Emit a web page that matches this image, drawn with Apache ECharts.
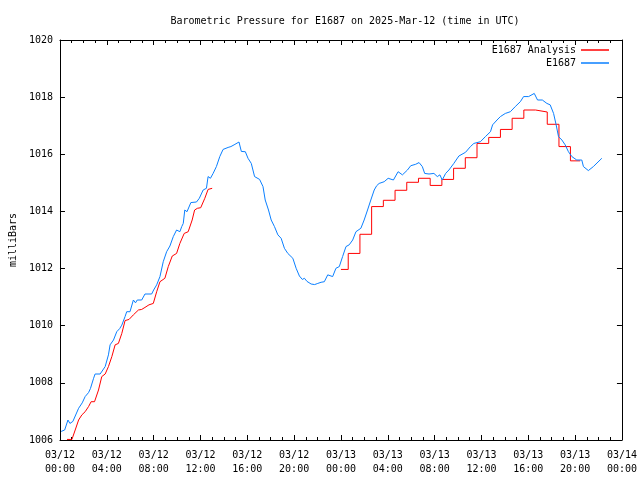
<!DOCTYPE html>
<html>
<head>
<meta charset="utf-8">
<script src="https://cdn.jsdelivr.net/npm/echarts@6/dist/echarts.min.js"></script>
<style>html,body{margin:0;padding:0;background:#fff}#c{width:640px;height:480px}</style>
</head>
<body>
<div id="c"></div>
<script>
// Hours since 2025-03-12 00:00 UTC
var xTickLabels = ['03/12\n00:00','03/12\n04:00','03/12\n08:00','03/12\n12:00','03/12\n16:00','03/12\n20:00','03/13\n00:00','03/13\n04:00','03/13\n08:00','03/13\n12:00','03/13\n16:00','03/13\n20:00','03/14\n00:00'];
var yTickLabels = ['1006','1008','1010','1012','1014','1016','1018','1020'];

var stationHours = [0.1,0.4,0.68,0.85,1.1,1.59,1.9,2.15,2.44,2.6,2.87,3.0,3.43,3.86,4.14,4.28,4.57,4.85,5.1,5.28,5.56,5.7,5.85,5.98,6.27,6.45,6.6,6.7,6.98,7.26,7.83,8.0,8.26,8.54,8.82,9.11,9.39,9.68,9.96,10.24,10.4,10.53,10.66,10.85,11.0,11.18,11.66,11.9,12.23,12.51,12.6,12.65,12.85,13.08,13.36,13.65,13.93,14.36,14.6,14.87,15.0,15.29,15.49,15.83,16.06,16.34,16.62,17.05,17.34,17.53,17.81,18.04,18.32,18.61,18.89,19.17,19.46,19.89,20.17,20.45,20.7,20.88,21.1,21.45,21.6,21.75,22.02,22.3,22.58,22.87,23.0,23.29,23.57,23.86,24.14,24.43,24.7,25.0,25.28,25.7,25.98,26.27,26.55,26.84,27.05,27.26,27.69,28.03,28.48,28.88,29.25,29.68,29.96,30.38,30.67,30.95,31.15,31.52,31.94,32.23,32.45,32.65,32.94,33.22,33.64,34.07,34.64,35.06,35.35,35.91,36.34,36.77,36.95,37.33,37.62,38.04,38.47,38.89,39.32,39.6,40.03,40.2,40.51,40.79,41.2,41.59,41.87,42.16,42.38,42.58,42.87,43.15,43.43,43.72,44.14,44.57,44.71,45.13,45.56,46.13,46.28];
var stationPressure = [1006.3,1006.35,1006.7,1006.58,1006.65,1007.11,1007.3,1007.52,1007.66,1007.8,1008.16,1008.31,1008.31,1008.57,1008.98,1009.33,1009.5,1009.79,1009.9,1010.02,1010.32,1010.49,1010.42,1010.49,1010.9,1010.8,1010.9,1010.84,1010.9,1011.11,1011.11,1011.25,1011.43,1011.72,1012.24,1012.59,1012.79,1013.12,1013.35,1013.29,1013.47,1013.58,1014.05,1013.99,1014.0,1014.31,1014.33,1014.46,1014.75,1014.81,1014.81,1015.22,1015.16,1015.33,1015.57,1015.92,1016.17,1016.24,1016.27,1016.33,1016.27,1016.43,1016.1,1016.09,1015.86,1015.68,1015.22,1015.12,1014.87,1014.4,1014.05,1013.7,1013.47,1013.18,1013.06,1012.71,1012.53,1012.36,1012.01,1011.74,1011.62,1011.66,1011.55,1011.46,1011.52,1011.44,1011.48,1011.52,1011.54,1011.78,1011.75,1011.72,1012.01,1012.07,1012.42,1012.77,1012.83,1013.0,1013.29,1013.41,1013.7,1014.05,1014.4,1014.75,1014.9,1014.98,1015.04,1015.16,1015.1,1015.39,1015.28,1015.45,1015.6,1015.65,1015.71,1015.57,1015.33,1015.31,1015.33,1015.22,1015.28,1015.1,1015.33,1015.45,1015.68,1015.94,1016.07,1016.27,1016.38,1016.44,1016.62,1016.79,1017.03,1017.2,1017.32,1017.43,1017.49,1017.67,1017.84,1018.02,1018.02,1017.95,1018.13,1017.9,1017.9,1017.78,1017.73,1017.43,1017.03,1016.62,1016.5,1016.33,1016.09,1015.92,1015.8,1015.8,1015.57,1015.43,1015.57,1015.8,1015.86];

var analysisHoursA = [0.6,1.02,1.3,1.59,1.87,2.15,2.44,2.66,2.95,3.29,3.57,3.86,4.14,4.43,4.71,4.99,5.28,5.56,5.9,6.27,6.7,6.98,7.26,7.6,7.97,8.26,8.54,8.96,9.25,9.59,9.96,10.24,10.61,10.95,11.29,11.5,11.74,12.02,12.37,12.65,12.75,13.0];
var analysisPressureA = [1006.02,1006.02,1006.35,1006.7,1006.88,1006.99,1007.17,1007.34,1007.34,1007.75,1008.22,1008.31,1008.57,1008.92,1009.33,1009.38,1009.73,1010.18,1010.22,1010.38,1010.55,1010.57,1010.64,1010.73,1010.78,1011.19,1011.54,1011.66,1012.07,1012.44,1012.53,1012.88,1013.23,1013.29,1013.7,1014.05,1014.11,1014.13,1014.46,1014.77,1014.81,1014.81];

var analysisHoursB = [24.0,24.62,25.62,26.62,27.62,28.62,29.62,30.62,31.62,32.62,33.62,34.62,35.62,36.62,37.62,38.62,39.62,40.62,41.62,42.62,43.6,44.43];
var analysisPressureB = [1011.97,1012.53,1013.2,1014.17,1014.39,1014.74,1015.02,1015.16,1014.91,1015.12,1015.51,1015.88,1016.38,1016.59,1016.87,1017.26,1017.55,1017.48,1017.05,1016.27,1015.77,1015.77];

function zip(a, b) { return a.map(function (v, i) { return [v, b[i]]; }); }

var FONT = 'DejaVu Sans Mono';
var RED = '#ff0000', BLUE = '#0a7fff';

function xAxisCfg(pos, labels) {
  return {
    type: 'value', position: pos, min: 0, max: 48, interval: 4,
    axisLine: { show: true, onZero: false, lineStyle: { color: '#000', width: 1 } },
    axisTick: { show: true, inside: true, length: 5, lineStyle: { color: '#000' } },
    minorTick: { show: true, splitNumber: 4, length: 3, lineStyle: { color: '#000' } },
    splitLine: { show: false },
    axisLabel: labels ? {
      show: true, margin: 8, fontFamily: FONT, fontSize: 10, color: '#000', lineHeight: 14,
      formatter: function (v) { return xTickLabels[Math.round(v / 4)]; }
    } : { show: false }
  };
}
function yAxisCfg(pos, labels) {
  var c = {
    type: 'value', position: pos, min: 1006, max: 1020, interval: 2,
    axisLine: { show: true, onZero: false, lineStyle: { color: '#000', width: 1 } },
    axisTick: { show: true, inside: true, length: 5, lineStyle: { color: '#000' } },
    splitLine: { show: false },
    axisLabel: labels ? {
      show: true, margin: 7, fontFamily: FONT, fontSize: 10, color: '#000',
      formatter: function (v) { return yTickLabels[Math.round((v - 1006) / 2)]; }
    } : { show: false }
  };
  if (labels) {
    c.name = 'milliBars';
    c.nameLocation = 'middle';
    c.nameRotate = 90;
    c.nameGap = 40;
    c.nameTextStyle = { fontFamily: FONT, fontSize: 10, color: '#000' };
  }
  return c;
}

var legendBase = { right: 31, padding: 0, align: 'right', icon: 'rect', itemWidth: 28, itemHeight: 1.5, itemGap: 0,
  textStyle: { fontFamily: FONT, fontSize: 10, color: '#000' } };

var chart = echarts.init(document.getElementById('c'), null, { renderer: 'canvas' });
chart.setOption({
  animation: false,
  backgroundColor: '#fff',
  title: {
    text: 'Barometric Pressure for E1687 on 2025-Mar-12 (time in UTC)',
    left: 340, top: 11, textAlign: 'center',
    textStyle: { fontFamily: FONT, fontSize: 10, fontWeight: 'normal', color: '#000' }
  },
  legend: [
    Object.assign({}, legendBase, { data: ['E1687 Analysis'], top: 45 }),
    Object.assign({}, legendBase, { data: ['E1687'], top: 58 })
  ],
  grid: { left: 58, top: 40, width: 564, height: 400, containLabel: false },
  xAxis: [xAxisCfg('bottom', true), xAxisCfg('top', false)],
  yAxis: [yAxisCfg('left', true), yAxisCfg('right', false)],
  series: [
    { name: 'E1687 Analysis', type: 'line', symbol: 'none', data: zip(analysisHoursA, analysisPressureA),
      lineStyle: { color: RED, width: 1 }, itemStyle: { color: RED } },
    { name: 'E1687 Analysis', type: 'line', symbol: 'none', step: 'end', data: zip(analysisHoursB, analysisPressureB),
      lineStyle: { color: RED, width: 1 }, itemStyle: { color: RED } },
    { name: 'E1687', type: 'line', symbol: 'none', data: zip(stationHours, stationPressure),
      lineStyle: { color: BLUE, width: 1 }, itemStyle: { color: BLUE } }
  ]
});
</script>
</body>
</html>
